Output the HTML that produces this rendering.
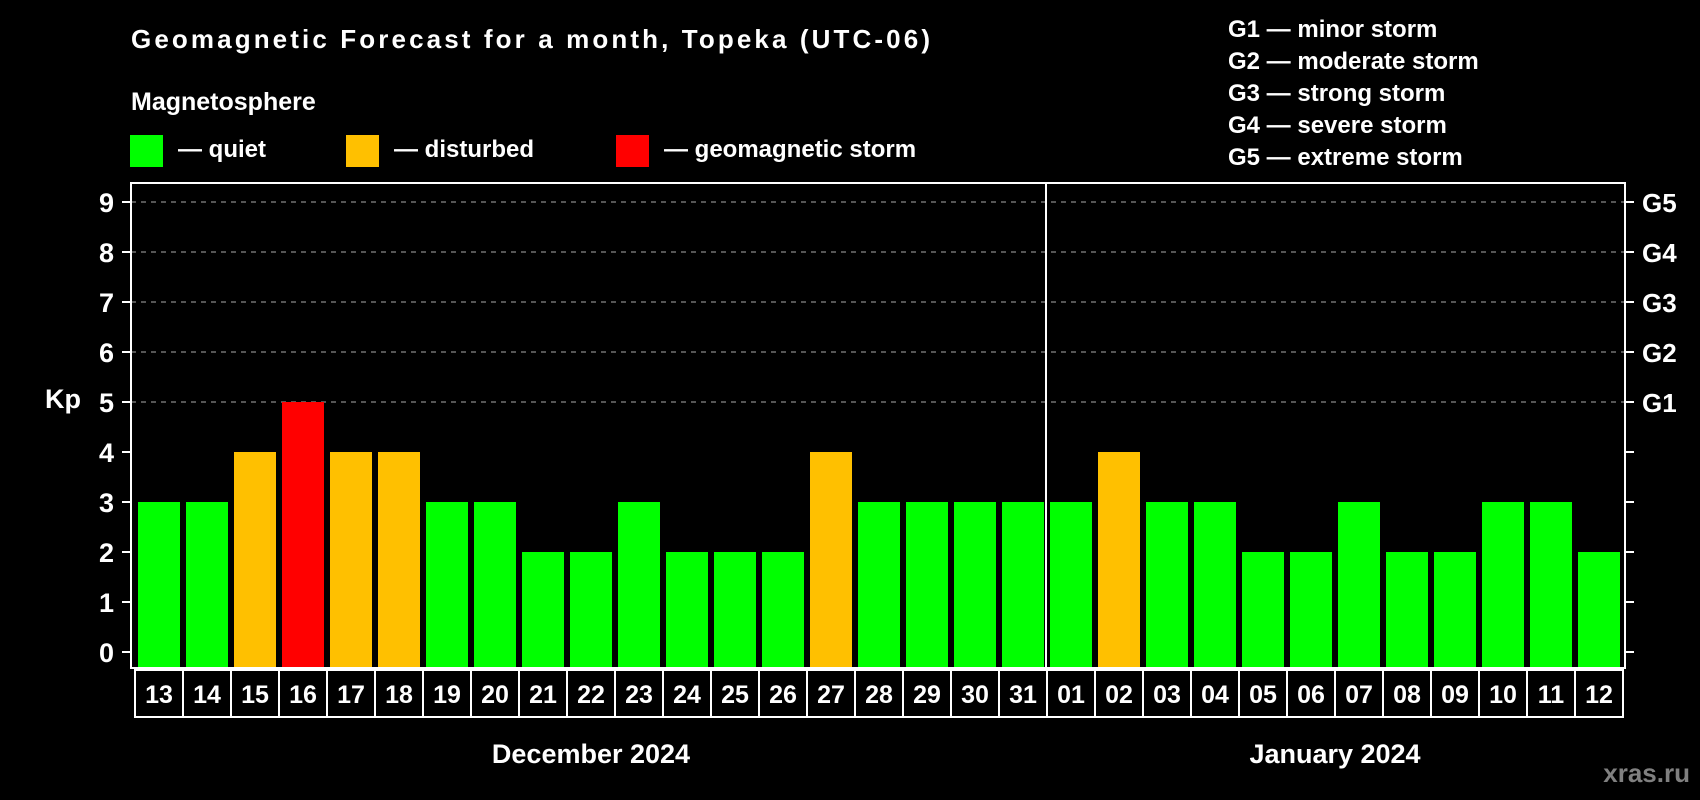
<!DOCTYPE html>
<html><head><meta charset="utf-8"><style>
html,body{margin:0;padding:0;background:#000;width:1700px;height:800px;overflow:hidden}
svg{display:block;font-family:"Liberation Sans",Arial,sans-serif;font-weight:bold}
</style></head><body>
<svg id="chart" width="1700" height="800" viewBox="0 0 1700 800" xmlns="http://www.w3.org/2000/svg">
<rect width="1700" height="800" fill="#000"/>
<text x="131" y="48" fill="#fff" font-size="26" textLength="799">Geomagnetic Forecast for a month, Topeka (UTC-06)</text>
<text x="131" y="110" fill="#fff" font-size="25">Magnetosphere</text>
<g><rect x="130" y="135" width="33" height="32" fill="#00ff00"/><text x="178" y="157" fill="#fff" font-size="24">— quiet</text></g>
<g><rect x="346" y="135" width="33" height="32" fill="#ffc000"/><text x="394" y="157" fill="#fff" font-size="24">— disturbed</text></g>
<g><rect x="616" y="135" width="33" height="32" fill="#ff0000"/><text x="664" y="157" fill="#fff" font-size="24">— geomagnetic storm</text></g>
<g fill="#fff" font-size="24">
<text x="1228" y="37">G1 — minor storm</text>
<text x="1228" y="69">G2 — moderate storm</text>
<text x="1228" y="101">G3 — strong storm</text>
<text x="1228" y="133">G4 — severe storm</text>
<text x="1228" y="165">G5 — extreme storm</text>
</g>
<text x="63" y="408" fill="#fff" font-size="27" text-anchor="middle">Kp</text>
<g id="grid"></g>
<g id="bars"></g>
<g id="axes"></g>
<text x="1690" y="782" fill="#808080" font-size="26" text-anchor="end">xras.ru</text>
</svg>
<script>
const days = ["13","14","15","16","17","18","19","20","21","22","23","24","25","26","27","28","29","30","31","01","02","03","04","05","06","07","08","09","10","11","12"];
const kpValues = [3,3,4,5,4,4,3,3,2,2,3,2,2,2,4,3,3,3,3,3,4,3,3,2,2,3,2,2,3,3,2];
const yTicks = [0,1,2,3,4,5,6,7,8,9];
const gLabels = ["G1","G2","G3","G4","G5"];
const months = ["December 2024","January 2024"];
const monthStartIndex = [0,19];

const NS="http://www.w3.org/2000/svg";
const L=131,R=1625,T=183,B=668,slot=48,x0=135;
const y=v=>652-v*50;
const xs=i=>x0+i*slot;
function mk(tag,attrs,parent){const e=document.createElementNS(NS,tag);for(const k in attrs)e.setAttribute(k,attrs[k]);parent.appendChild(e);return e;}
const grid=document.getElementById('grid'),bars=document.getElementById('bars'),axes=document.getElementById('axes');
// grid lines for 5..9
yTicks.filter(v=>v>=5).forEach(v=>{
  const g=mk('line',{x1:L,x2:R,y1:y(v),y2:y(v),stroke:'#888','stroke-width':1.2,'stroke-dasharray':'5,5'},grid);
  
  
});
kpValues.forEach((v,i)=>{
  const c=v>=5?'#ff0000':(v>=4?'#ffc000':'#00ff00');
  const r=mk('rect',{x:xs(i)+3,y:y(v),width:42,height:B-1-y(v),fill:c},bars);
  
  
  const b=mk('rect',{x:xs(i),y:670,width:slot,height:47,fill:'none',stroke:'#fff','stroke-width':2},axes);
  
  
  const t=mk('text',{x:xs(i)+slot/2,y:703,fill:'#fff','font-size':25,'text-anchor':'middle'},axes);
  t.textContent=days[i];
  
  
});
// axes frame
const frame=mk('path',{d:`M${L} ${T}H${R}V${B}H${L}Z`,fill:'none',stroke:'#fff','stroke-width':2},axes);


const div=mk('line',{x1:xs(monthStartIndex[1])-1,x2:xs(monthStartIndex[1])-1,y1:T,y2:B,stroke:'#fff','stroke-width':2},axes);


yTicks.forEach(v=>{
  const tl=mk('line',{x1:122,x2:L,y1:y(v),y2:y(v),stroke:'#fff','stroke-width':2},axes);
  
  
  const tr=mk('line',{x1:R,x2:1634,y1:y(v),y2:y(v),stroke:'#fff','stroke-width':2},axes);
  
  
  const t=mk('text',{x:114,y:y(v)+10,fill:'#fff','font-size':27,'text-anchor':'end'},axes);
  t.textContent=v;
  
  
});
gLabels.forEach((g,i)=>{
  const t=mk('text',{x:1642,y:y(5+i)+10,fill:'#fff','font-size':26},axes);
  t.textContent=g;
  
  
});
months.forEach((m,k)=>{
  const s=monthStartIndex[k],e=k+1<monthStartIndex.length?monthStartIndex[k+1]:days.length;
  const t=mk('text',{x:(xs(s)+xs(e))/2,y:763,fill:'#fff','font-size':27,'text-anchor':'middle'},axes);
  t.textContent=m;
  
  
});
</script>
</body></html>
